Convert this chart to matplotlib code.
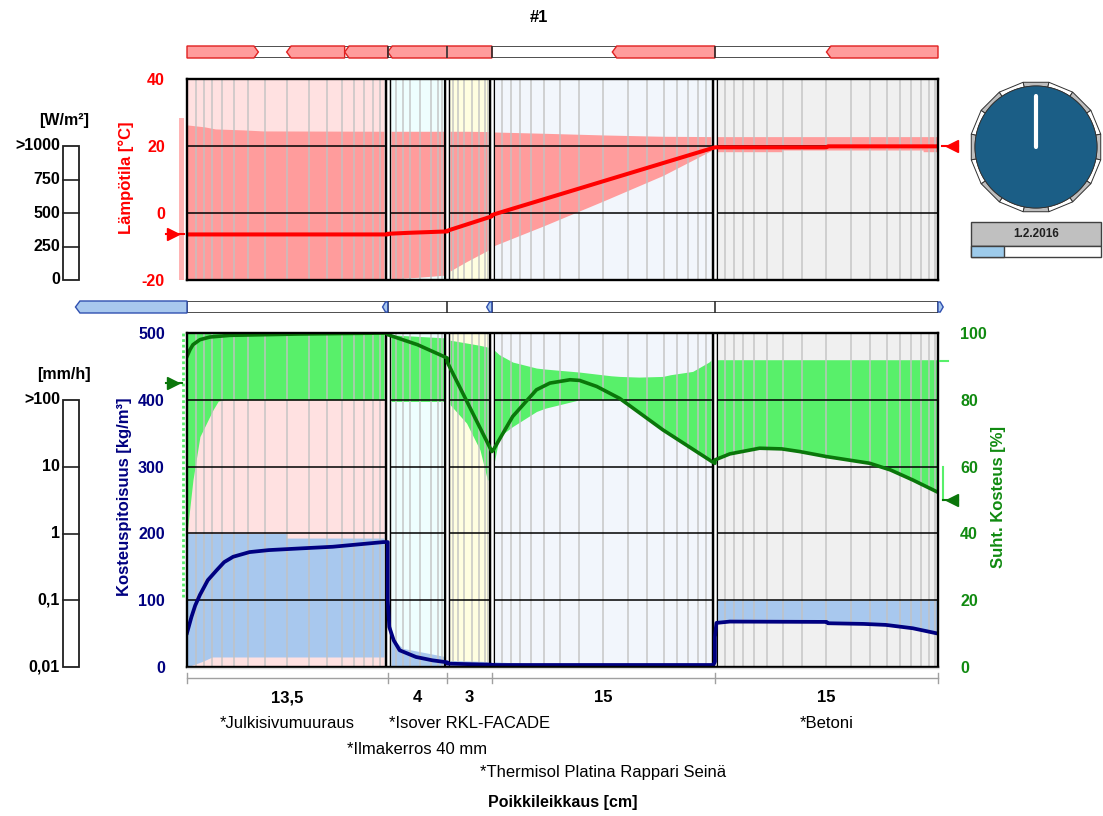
import numpy as np
import matplotlib
matplotlib.use('Agg')
import matplotlib.pyplot as plt
from matplotlib.patches import Rectangle, Polygon, Circle
from matplotlib.transforms import blended_transform_factory as blend

plt.rcParams['font.family'] = ['Liberation Sans', 'DejaVu Sans']
plt.rcParams['axes.unicode_minus'] = False

W, H, DPI = 1103, 816, 100

# ---------------- data ----------------
title = '#1'
date_label = '1.2.2016'
x_label = 'Poikkileikkaus [cm]'
layer_names = ['*Julkisivumuuraus', '*Ilmakerros 40 mm', '*Isover RKL-FACADE',
               '*Thermisol Platina Rappari Seinä', '*Betoni']
layer_thick = [13.5, 4.0, 3.0, 15.0, 15.0]
layer_thick_labels = ['13,5', '4', '3', '15', '15']
layer_name_rows = [0, 1, 0, 2, 0]
layer_colors = ['#FFE1E1', '#EEFEFE', '#FFFEE0', '#F2F6FC', '#F0F0F0']
mesh_fractions = [0.045, 0.085, 0.125, 0.175, 0.235, 0.305, 0.39, 0.5,
                  0.61, 0.695, 0.77, 0.83, 0.88, 0.925, 0.96, 0.985]
mesh_fractions_thin = [0.06, 0.14, 0.25, 0.38, 0.55, 0.72, 0.84, 0.92, 0.97]
layer_is_thin = [False, True, True, False, False]

temp_ticks = [-20, 0, 20, 40]
temp_grid = [0, 20]
mc_ticks = [0, 100, 200, 300, 400, 500]
mc_grid = [100, 200, 300, 400]
rh_ticks = [0, 20, 40, 60, 80, 100]
flux_scale_labels = ['>1000', '750', '500', '250', '0']
rain_scale_labels = ['>100', '10', '1', '0,1', '0,01']

# temperature profile (cm, degC)
temp_x = [0, 13.5, 13.5, 15.0, 17.5, 17.5, 20.5, 20.5, 35.5, 35.5, 43.0, 43.1, 50.5]
temp_y = [-6.4, -6.4, -6.2, -5.9, -5.5, -5.3, -1.0, -0.6, 19.6, 19.6, 19.6, 19.9, 19.9]
temp_env_x = [0, 1.2, 1.9, 3.8, 5.1, 13.5, 13.5, 15.5, 17.5, 17.5, 18.8, 20.5, 20.5,
              24.0, 28.0, 32.0, 35.5, 35.5, 40.0, 40.0, 49.5, 49.5, 50.5]
temp_env_hi = [26.3, 25.7, 25.1, 24.8, 24.5, 24.4, 24.4, 24.4, 24.4, 24.4, 24.4, 24.3, 24.2,
               23.8, 23.3, 22.9, 22.8, 22.8, 22.8, 22.8, 22.8, 22.8, 22.8]
temp_env_lo = [-20, -20, -20, -20, -20, -20, -19.7, -19.2, -18.5, -17.8, -14.5, -10.5, -10.0,
               -3.8, 3.6, 11.2, 19.2, 18.3, 18.3, 18.8, 18.8, 18.3, 18.3]
ext_temp = -6.3
ext_temp_range = [-20, 28.5]
int_temp = 20.0

# relative humidity profile (cm, %)
rh_x = [0, 0.2, 0.4, 0.87, 1.55, 2.9, 7.6, 13.5,
        13.5, 15.5, 17.5,
        17.5, 20.5,
        20.5, 20.6, 21.9, 23.5, 24.4, 25.75, 26.4, 27.55, 29.1, 32.0, 35.3, 35.5,
        35.5, 36.5, 38.5, 40.0, 41.2, 43.0, 45.9, 47.3, 48.8, 50.5]
rh_y = [93, 95, 96.5, 98, 98.8, 99.3, 99.7, 100,
        99.5, 96.5, 92.5,
        91.3, 64.5,
        64.5, 65, 75, 83, 85, 86, 85.8, 84, 80.4, 71, 61.5, 61,
        62, 63.8, 65.5, 65.3, 64.5, 63.0, 61.0, 59.0, 56.0, 52.3]
rh_env_x = [0, 0.4, 0.87, 1.75, 2.1, 2.5, 13.5, 13.5, 17.5, 17.5, 18.8, 19.7, 20.2, 20.45,
            20.5, 21.0, 21.9, 23.5, 24.1, 26.4, 28.5, 29.1, 30.4, 32.0, 32.5, 34.0, 35.1, 35.5,
            35.5, 36.5, 38.5, 40.0, 41.2, 43.0, 45.9, 47.3, 48.8, 50.5]
rh_env_hi = [100, 100, 100, 100, 100, 100, 100, 99.5, 98.5, 98, 97, 96.3, 95.8, 95.6,
             95.5, 93.5, 91.3, 89.5, 89.2, 88.3, 87.2, 87.0, 86.8, 87.0, 87.5, 88.5, 91.3, 93,
             92, 92, 92, 92, 92, 92, 92, 92, 92, 92]
rh_env_lo = [40, 56, 69, 77, 79.6, 80, 80, 79.5, 79.5, 79.5, 73, 65, 56, 56,
             57.5, 69, 72, 76.5, 77.5, 80, 80, 80, 76.2, 71, 69.5, 65.5, 62.2, 61,
             62, 63.8, 65.5, 65.3, 64.5, 63.0, 61.0, 59.0, 56.0, 52.3]
ext_rh = 85
ext_rh_range = [21, 100]
int_rh = 50
int_rh_range = [50, 60]
int_rh_max = 91.5

# water content profile (cm, kg/m3)
mc_x = [0, 0.3, 0.55, 0.87, 1.4, 2.0, 2.5, 3.1, 4.2, 5.5, 7.6, 9.8, 13.2, 13.5,
        13.5, 13.6, 13.9, 14.3, 15.4, 16.5, 17.5,
        17.5, 20.5,
        20.5, 35.4, 35.5,
        35.5, 35.6, 36.5, 43.0, 43.1, 45.5, 47.0, 48.8, 50.5]
mc_y = [51, 75, 92, 108, 130, 145, 157, 165, 172, 175, 177.5, 180, 187, 187,
        100, 60, 40, 25, 15, 10, 7,
        5, 3.5,
        3, 3, 8,
        45, 66, 68, 67.5, 65.5, 64.5, 63, 58, 50]
mc_env_x = [0, 1.0, 1.7, 6.7, 6.7, 13.5, 13.5, 13.7, 14.5, 17.5, 17.5, 20.5, 20.5, 23.0, 35.5,
            35.5, 35.6, 36.5, 43.0, 43.1, 45.5, 47.0, 48.8, 50.5]
mc_env_hi = [200, 200, 200, 200, 193, 193, 100, 45, 28, 15, 10, 8, 8, 5, 4,
             100, 100, 100, 100, 100, 100, 100, 100, 100]
mc_env_lo = [0, 8, 15, 15, 15, 15, 0, 0, 0, 0, 0, 0, 0, 0, 0,
             45, 66, 68, 67.5, 65.5, 64.5, 63, 58, 50]

heat_seg_start = [0.0, 6.7, 10.6, 13.5, 28.6, 43.0]
heat_seg_end = [4.8, 10.6, 13.5, 20.5, 35.5, 50.5]
heat_seg_dir = [1, -1, -1, -1, -1, -1]
moist_seg_start = [-7.5]
moist_seg_end = [0.0]
moist_marks = [13.5, 20.5, 50.5]
moist_mark_dir = [-1, -1, 1]
time_progress = 0.25
clock_hand_angle = 90.0

# ---------------- colours ----------------
RED = '#FF0000'
PINK = '#FF9C9C'
GREEN_FILL = '#58F06A'
GREEN_LINE = '#0A760A'
GREEN_TXT = '#108A10'
BLUE_FILL = '#A8C8EE'
NAVY = '#000080'

bounds = np.concatenate([[0.0], np.cumsum(layer_thick)])
total = bounds[-1]

fig = plt.figure(figsize=(W / DPI, H / DPI), dpi=DPI)


def px_axes(x0, y0, x1, y1):
    return fig.add_axes([x0 / W, 1 - y1 / H, (x1 - x0) / W, (y1 - y0) / H])


axT = px_axes(187, 79, 938, 280)
axB = px_axes(187, 333, 938, 667)
axR = axB.twinx()


def decorate_layers(ax):
    for i in range(len(layer_thick)):
        ax.axvspan(bounds[i], bounds[i + 1], color=layer_colors[i], lw=0, zorder=0.5)


def mesh_and_bounds(ax, grid_vals):
    for i in range(len(layer_thick)):
        fr = mesh_fractions_thin if layer_is_thin[i] else mesh_fractions
        for f in fr:
            ax.axvline(bounds[i] + f * layer_thick[i], color='#C2C2C2', lw=1.2,
                       alpha=0.85, zorder=2.5)
    for g in grid_vals:
        ax.axhline(g, color='black', lw=1.1, zorder=3)
    for b in bounds[1:-1]:
        ax.axvline(b, color='black', lw=4.4, zorder=4)
        ax.axvline(b, color='white', lw=1.8, zorder=4.1)


# ---------------- top: temperature ----------------
decorate_layers(axT)
axT.fill_between(temp_env_x, temp_env_lo, temp_env_hi, color=PINK, lw=0, zorder=2)
mesh_and_bounds(axT, temp_grid)
axT.plot(temp_x, temp_y, color=RED, lw=2.9, zorder=5, solid_capstyle='butt')
axT.set_xlim(0, total)
axT.set_ylim(-20, 40)
axT.set_yticks(temp_ticks)
axT.set_xticks([])
axT.tick_params(axis='y', length=0, pad=16, labelcolor=RED, labelsize=11.5)
for lab in axT.get_yticklabels():
    lab.set_fontweight('bold')

# ---------------- bottom: moisture ----------------
decorate_layers(axB)
axB.fill_between(rh_env_x, rh_env_lo, rh_env_hi, color=GREEN_FILL, lw=0, zorder=1.8,
                 transform=axR.transData)
axB.fill_between(mc_env_x, mc_env_lo, mc_env_hi, color=BLUE_FILL, lw=0, zorder=2)
mesh_and_bounds(axB, mc_grid)
axB.plot(rh_x, rh_y, color=GREEN_LINE, lw=2.6, zorder=5, transform=axR.transData)
axB.plot(mc_x, mc_y, color=NAVY, lw=2.7, zorder=5.1)
axB.set_xlim(0, total)
axB.set_ylim(0, 500)
axR.set_ylim(0, 100)
axB.set_yticks(mc_ticks)
axR.set_yticks(rh_ticks)
axB.set_xticks([])
axB.tick_params(axis='y', length=0, pad=16, labelcolor=NAVY, labelsize=11.5)
axR.tick_params(axis='y', length=0, pad=16, labelcolor=GREEN_TXT, labelsize=11.5)
for lab in axB.get_yticklabels() + axR.get_yticklabels():
    lab.set_fontweight('bold')

for ax in (axT, axB):
    for s in ax.spines.values():
        s.set_linewidth(1.7)
        s.set_zorder(10)
for s in axR.spines.values():
    s.set_visible(False)

fig.text(126 / W, 1 - 178 / H, 'Lämpötila [°C]', rotation=90, ha='center', va='center',
         color=RED, fontsize=12, fontweight='bold')
fig.text(125 / W, 1 - 497 / H, 'Kosteuspitoisuus [kg/m³]', rotation=90, ha='center',
         va='center', color=NAVY, fontsize=12, fontweight='bold')
fig.text(998 / W, 1 - 497 / H, 'Suht. Kosteus [%]', rotation=90, ha='center',
         va='center', color=GREEN_TXT, fontsize=12, fontweight='bold')

# ---------------- flux bars ----------------
barT = px_axes(187, 46, 938, 58)
barM = px_axes(187, 301, 938, 313)
for bar in (barT, barM):
    bar.set_xlim(0, total)
    bar.set_ylim(0, 1)
    bar.axis('off')
    bar.add_patch(Rectangle((0, 0), total, 1, fc='white', ec='#303030', lw=1.2, zorder=1))
    for b in bounds[1:-1]:
        bar.plot([b, b], [0, 1], color='#303030', lw=1.2, zorder=3)

d = 0.3
for s, e, dr in zip(heat_seg_start, heat_seg_end, heat_seg_dir):
    if dr > 0:
        pts = [(s, 0), (e - d, 0), (e, 0.5), (e - d, 1), (s, 1)]
    else:
        pts = [(s + d, 0), (e, 0), (e, 1), (s + d, 1), (s, 0.5)]
    barT.add_patch(Polygon(pts, closed=True, fc=PINK, ec='#E02020', lw=1.0, zorder=2,
                           clip_on=False))
for s, e in zip(moist_seg_start, moist_seg_end):
    pts = [(s + d, 0), (e, 0), (e, 1), (s + d, 1), (s, 0.5)]
    barM.add_patch(Polygon(pts, closed=True, fc=BLUE_FILL, ec='#3050B0', lw=1.0, zorder=2,
                           clip_on=False))
for b, dr in zip(moist_marks, moist_mark_dir):
    if dr < 0:
        pts = [(b - 0.35, 0.5), (b - 0.15, 0.08), (b, 0.08), (b, 0.92), (b - 0.15, 0.92)]
    else:
        pts = [(b, 0.08), (b + 0.15, 0.08), (b + 0.35, 0.5), (b + 0.15, 0.92), (b, 0.92)]
    barM.add_patch(Polygon(pts, closed=True, fc=BLUE_FILL, ec='#3050B0', lw=1.0, zorder=4,
                           clip_on=False))

# ---------------- overlay (pixel coordinates) ----------------
ov = fig.add_axes([0, 0, 1, 1])
ov.set_xlim(0, W)
ov.set_ylim(H, 0)
ov.axis('off')
ov.patch.set_visible(False)

ov.text(539, 18, title, ha='center', va='center', fontsize=12, fontweight='bold')

# boundary condition markers
trT = blend(ov.transData, axT.transData)
trR = blend(ov.transData, axR.transData)
ov.add_patch(Rectangle((179, ext_temp_range[0]), 5, ext_temp_range[1] - ext_temp_range[0],
                       fc='#FFB4B4', ec='none', transform=trT, clip_on=False))
ov.plot([166, 184], [ext_temp, ext_temp], color=RED, lw=1.5, transform=trT, clip_on=False)
ov.plot([173], [ext_temp], marker='>', ms=9, color=RED, transform=trT, clip_on=False)
ov.plot([942, 958], [int_temp, int_temp], color=RED, lw=1.5, transform=trT, clip_on=False)
ov.plot([952], [int_temp], marker='<', ms=9, color=RED, transform=trT, clip_on=False)

ov.plot([183, 183], ext_rh_range, color=GREEN_FILL, lw=2, ls=(0, (1, 1)), transform=trR,
        clip_on=False)
ov.plot([166, 182], [ext_rh, ext_rh], color=GREEN_LINE, lw=1.5, transform=trR, clip_on=False)
ov.plot([173], [ext_rh], marker='>', ms=9, color=GREEN_LINE, transform=trR, clip_on=False)
ov.plot([943, 943], int_rh_range, color=GREEN_FILL, lw=1.5, transform=trR, clip_on=False)
ov.plot([940, 948], [int_rh_max, int_rh_max], color=GREEN_FILL, lw=1.5, transform=trR,
        clip_on=False)
ov.plot([943, 958], [int_rh, int_rh], color=GREEN_LINE, lw=1.5, transform=trR, clip_on=False)
ov.plot([952], [int_rh], marker='<', ms=9, color=GREEN_LINE, transform=trR, clip_on=False)


# left scales
def side_scale(y0, y1, labels, title_txt, title_y):
    ov.add_patch(Rectangle((63, y0), 16, y1 - y0, fc='white', ec='#202020', lw=1.3))
    n = len(labels)
    for k, lab in enumerate(labels):
        y = y0 + (y1 - y0) * k / (n - 1)
        if 0 < k < n - 1:
            ov.plot([63, 79], [y, y], color='#202020', lw=1.2)
        ov.text(60, y, lab, ha='right', va='center', fontsize=11.5, fontweight='bold')
    ov.text(64, title_y, title_txt, ha='center', va='center', fontsize=11.5,
            fontweight='bold')


side_scale(146, 280, flux_scale_labels, '[W/m²]', 120)
side_scale(400, 667, rain_scale_labels, '[mm/h]', 374)

# clock
cx, cy, r_in, r_out = 1036, 147, 61, 66
for k in range(16):
    a0 = np.deg2rad(90 - 22.5 * k - 11.25)
    a1 = np.deg2rad(90 - 22.5 * k + 11.25)
    arc = np.linspace(a0, a1, 8)
    inner = [(cx + r_in * np.cos(a), cy - r_in * np.sin(a)) for a in arc]
    outer = [(cx + r_out * np.cos(a1), cy - r_out * np.sin(a1)),
             (cx + r_out * np.cos(a0), cy - r_out * np.sin(a0))]
    fc = '#BEBEBE' if k % 2 == 0 else 'white'
    ov.add_patch(Polygon(inner + outer, closed=True, fc=fc, ec='#303030', lw=0.7))
ov.add_patch(Circle((cx, cy), r_in, fc='#1B5E86', ec='#303030', lw=0.6))
ha = np.deg2rad(clock_hand_angle)
ov.plot([cx, cx + 51 * np.cos(ha)], [cy, cy - 51 * np.sin(ha)], color='white', lw=3,
        solid_capstyle='round')
ov.add_patch(Rectangle((971, 222), 130, 24, fc='#C0C0C0', ec='#404040', lw=1.0))
ov.text(1036, 234, date_label, ha='center', va='center', fontsize=8.5, fontweight='bold',
        color='#202020')
ov.add_patch(Rectangle((971, 246), 130, 11, fc='white', ec='#404040', lw=1.0))
ov.add_patch(Rectangle((971, 246), 130 * time_progress, 11, fc='#9DCBEB', ec='#404040',
                       lw=1.0))

# cross-section dimension line and labels
trX = blend(axB.transData, ov.transData)
ov.plot([0, total], [678, 678], color='#A0A0A0', lw=1.0, transform=trX, clip_on=False)
ov.plot([0, total], [668, 668], color='#D8D8D8', lw=1.0, transform=trX, clip_on=False)
for b in bounds:
    ov.plot([b, b], [673, 683], color='#A0A0A0', lw=1.0, transform=trX, clip_on=False)
name_rows_y = [723, 749, 773]
for i in range(len(layer_thick)):
    c = (bounds[i] + bounds[i + 1]) / 2
    ov.text(c, 698, layer_thick_labels[i], ha='center', va='center', fontsize=12,
            fontweight='bold', transform=trX)
    ov.text(c, name_rows_y[layer_name_rows[i]], layer_names[i], ha='center', va='center',
            fontsize=12, transform=trX)
ov.text(total / 2, 803, x_label, ha='center', va='center', fontsize=11.5, fontweight='bold',
        transform=trX)

fig.savefig('out.png', dpi=DPI)
